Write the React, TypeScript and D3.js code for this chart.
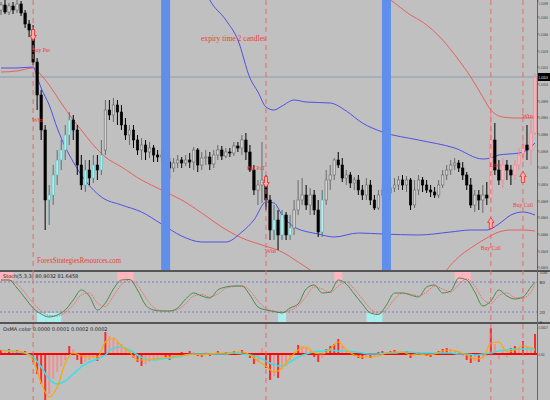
import React from 'react';
import * as d3 from 'd3';

// ---------- DATA (prices in points above 1.40000, 1 pt = 0.00001) ----------
const opens = [1090,1095,1088,1094,1090,1096,1087,1076,1070,1038,
1005,970,900,905,925,940,950,965,980,970,
935,915,930,922,935,930,950,990,985,995,
988,975,965,970,960,950,955,948,952,945,
943,945,938,932,937,940,937,940,938,950,
935,942,943,936,945,950,944,948,947,954,
952,960,948,930,910,915,920,900,870,880,
865,885,865,872,890,900,905,895,905,890,
868,900,920,925,940,935,922,925,917,920,
910,905,915,900,892,905,910,907,912,915,
920,915,920,895,910,920,915,910,908,905,
915,925,930,935,937,932,925,915,895,905,
900,905,902,960,930,920,935,930,925,935,
945,955,950,967];
const highs = [1098,1100,1097,1098,1100,1099,1090,1080,1075,1042,
1010,975,915,935,950,960,975,988,985,975,
945,940,940,945,945,960,1000,1000,1002,1000,
995,982,975,975,965,962,960,958,955,950,
950,948,942,942,945,943,945,947,953,952,
948,950,948,950,955,954,952,952,958,958,
965,967,955,935,920,958,925,905,895,890,
890,888,885,900,920,922,915,912,910,900,
910,930,935,942,948,942,930,928,923,925,
915,922,920,905,910,917,915,920,922,924,
925,924,922,920,925,923,920,915,913,920,
930,935,940,942,940,938,928,922,910,910,
915,918,990,977,940,942,940,935,940,952,
960,975,980,1027];
const lows = [1085,1086,1085,1086,1087,1084,1072,1063,1035,990,
960,870,875,895,915,930,940,955,960,925,
910,908,915,917,920,925,945,980,978,975,
970,960,955,952,945,940,940,942,938,938,
938,930,922,928,932,932,934,932,930,928,
930,935,930,932,940,940,942,943,944,948,
945,940,928,905,895,897,890,860,860,850,
860,860,860,865,885,895,890,885,885,863,
863,895,910,920,932,918,915,912,910,905,
900,900,895,890,890,902,903,904,908,910,
910,908,890,892,905,908,907,903,902,902,
912,920,925,930,928,920,910,892,888,890,
887,895,898,925,915,912,920,915,920,930,
940,940,935,965];
const closes = [1095,1088,1094,1090,1096,1087,1076,1070,1038,1005,
970,900,905,925,940,950,965,980,970,935,
915,930,922,935,930,945,990,985,995,988,
975,965,970,960,950,955,948,952,945,943,
945,938,932,937,940,937,940,938,950,935,
942,943,936,945,950,944,948,947,954,952,
960,948,930,910,915,920,900,870,880,865,
885,865,872,890,900,905,895,905,890,868,
900,920,925,940,935,922,925,917,920,910,
905,915,900,892,905,910,907,912,915,920,
915,920,895,910,920,915,910,908,905,915,
925,930,935,937,932,925,915,895,905,900,
905,902,960,930,920,935,930,925,935,945,
955,950,967,1023];

const cyanZones = [[9, 25], [67, 72], [79, 80]];
const pinkZones = [[122, 133]];

// indicator lines: bar index + price points
const blueLowerIdx = [0,4,8,9,10,12,14,16,18,20,25,30,35,40,45,50,56,60,63,66,68,70,73,79,83,89,95,104,112,117,121,124,127,130,133];
const blueLowerPts = [1032,1032,1033,1023,1012,995,972,953,938,925,903,895,888,876,864,858,858,868,880,898,897,885,873,866,863,867,866,865,868,870,870,876,885,888,885];
const blueUpperIdx = [0,20,40,48,52,56,59,62,64,66,68,70,73,76,82,86,90,95,104,113,120,122,124,129,131,133];
const blueUpperPts = [1160,1220,1190,1140,1100,1080,1060,1022,1008,993,990,994,1000,998,997,989,977,968,960,952,941,942,945,947,950,957];
const redLowerIdx = [0,4,8,10,12,15,18,20,23,26,30,35,40,45,50,55,60,65,70,74,77,80,90,100,108,111,114,117,121,124,127,130,133];
const redLowerPts = [1028,1029,1032,1025,1015,997,980,970,955,943,933,920,910,900,887,873,862,855,848,838,830,820,800,790,810,830,843,852,862,868,870,870,869];
const redUpperIdx = [80,90,97,102,105,110,114,117,120,122,125,128,133];
const redUpperPts = [1140,1115,1100,1085,1078,1060,1040,1023,1003,990,983,982,982];

const priceTicks = [1099,1083,1066,1049,1033,1016,999,983,966,949,933,916,899,883,866,849,833];
const expiryBars = [41, 96];

const signalBars = [8, 66, 122, 130];
const signalKinds = ['put', 'put', 'call', 'call'];
const signalArrowPts = [1065, 918, 877, 923];
const signalLabels = ['Buy Put', 'Buy PuT', 'Buy Call', 'Buy Call'];
const signalLabelPts = [1048, 930, 850, 893];
const signalAnchors = ['start', 'end', 'middle', 'middle'];
const resultLabels = ['Win', 'Win', 'Loss', 'Win'];
const resultPts = [978, 847, 933, 982];

// stochastic, sampled every 2 bars (last sample = last bar)
const stochMain = [84,84,68,48,28,16,10,14,24,44,64,52,24,38,66,84,85,64,34,24,22,22,28,46,58,52,48,64,70,72,72,54,30,24,21,18,28,36,66,74,58,60,84,76,56,36,18,15,34,58,58,54,50,70,74,58,62,88,84,60,32,42,64,52,46,50,70,80];
const stochSignal = [84,84,76,58,38,22,13,12,19,34,54,58,38,31,52,75,84,74,49,29,23,22,25,37,52,55,50,56,67,71,72,63,42,27,22,20,23,32,51,70,66,59,72,80,66,46,27,17,25,46,58,56,52,60,72,66,60,75,86,72,46,37,53,58,49,48,60,75];
const stochLevels = [80, 20];
const stochTicks = [100, 80, 20, 0];

// oscillator (points, 1e-5), histogram per bar, lines every 2 bars
const oscHist = [4,3,5,3,4,2,3,-2,-8,-20,
-30,-46,-40,-25,-18,-12,-6,8,5,-6,
-10,-8,-6,-4,-7,-3,22,18,16,12,
10,6,3,-4,-8,-12,-10,-8,-6,-5,
-3,-5,-6,-3,-2,2,-1,3,2,-2,
-3,2,-2,1,3,-1,2,1,3,2,
4,2,-4,-10,-8,6,-14,-26,-22,-24,
-15,-12,-6,2,9,8,6,3,-3,-8,
-4,5,8,10,15,8,3,2,-2,-4,
-5,-3,-4,-2,2,3,2,3,4,2,
1,3,-4,-2,2,1,-2,-3,1,3,
5,6,5,4,3,-2,-6,-9,-7,-8,
-4,-2,26,10,-5,4,-3,6,8,6,
13,7,5,20];
const oscOrange = [4,3,3,1,-6,-29,-43,-33,-9,1,-2,-3,-3,12,16,8,2,-6,-6,-5,-4,-3,-2,-1,0,-1,0,1,1,2,2,-1,-7,-12,-18,-14,-4,4,7,1,0,5,12,4,-1,-3,-3,-2,1,2,2,-1,0,-1,0,3,4,2,-1,-5,-4,11,12,2,4,8,6,5];
const oscCyan = [4,3,2,1,-3,-13,-25,-30,-27,-20,-13,-8,-5,-1,6,7,4,-1,-5,-6,-5,-4,-3,-1,0,0,0,0,0,1,0,-1,-3,-7,-11,-12,-8,-3,0,2,3,4,3,3,2,1,0,0,1,1,2,2,1,1,1,1,1,0,0,-1,0,1,3,4,5,5,5,4];
const oscTicks = [27, 0];

const W = 550, H = 400, AX = 537;
const BG = '#c0c0c0';
const SERIF = '"Liberation Serif", "DejaVu Serif", serif';
const SANS = '"DejaVu Sans", sans-serif';

function inZone(i: number, zones: number[][]) {
  return zones.some(([a, b]) => i >= a && i <= b);
}

export default function App() {
  const n = closes.length;
  const x = d3.scaleLinear().domain([0, n - 1]).range([1, 535]);
  const yP = d3.scaleLinear().domain([1100, 830]).range([0, 270]);
  const yS = d3.scaleLinear().domain([100, 0]).range([272, 322]);
  const yH = d3.scaleLinear().domain([0, -46]).range([354, 400]);
  const sBar = (k: number) => Math.min(k * 2, n - 1);
  const fmtP = (v: number) => (1.4 + v / 1e5).toFixed(5);

  const mkLine = (idx: number[], pts: number[]) =>
    d3.line<number>().x((_, k) => x(idx[k])).y(d => yP(d)).curve(d3.curveMonotoneX)(pts) || '';
  const stochLine = (vals: number[]) =>
    d3.line<number>().x((_, k) => x(sBar(k))).y(d => yS(d)).curve(d3.curveMonotoneX)(vals) || '';
  const oscLine = (vals: number[]) =>
    d3.line<number>().x((_, k) => x(sBar(k))).y(d => yH(d)).curve(d3.curveMonotoneX)(vals) || '';

  const bw = 2.4;
  const labX = AX + 1.5;
  const labW = 9.5;

  const arrow = (cx: number, cy: number, down: boolean) => {
    const s = down ? 1 : -1;
    const p = [
      [cx - 1.5, cy - 5.5 * s], [cx + 1.5, cy - 5.5 * s], [cx + 1.5, cy + 0.5 * s],
      [cx + 3.2, cy + 0.5 * s], [cx, cy + 5.5 * s], [cx - 3.2, cy + 0.5 * s], [cx - 1.5, cy + 0.5 * s],
    ];
    return 'M' + p.map(q => q.join(',')).join('L') + 'Z';
  };

  return (
    <svg width={W} height={H} style={{ position: 'absolute', left: 0, top: 0, display: 'block' }}>
      <defs>
        <clipPath id="cMain"><rect x={0} y={0} width={AX} height={270} /></clipPath>
        <clipPath id="cStoch"><rect x={0} y={272} width={AX} height={50} /></clipPath>
        <clipPath id="cOsc"><rect x={0} y={324} width={AX} height={76} /></clipPath>
      </defs>
      <rect x={0} y={0} width={W} height={H} fill={BG} />

      {/* ---------- main panel ---------- */}
      <g clipPath="url(#cMain)">
        <line x1={0} x2={AX} y1={yP(closes[n - 1])} y2={yP(closes[n - 1])} stroke="#8c9cad" strokeWidth={1} />
        <path d={mkLine(redLowerIdx, redLowerPts)} fill="none" stroke="#e86060" strokeWidth={1} />
        <path d={mkLine(redUpperIdx, redUpperPts)} fill="none" stroke="#e86060" strokeWidth={1} />
        <path d={mkLine(blueLowerIdx, blueLowerPts)} fill="none" stroke="#5050e6" strokeWidth={1} />
        <path d={mkLine(blueUpperIdx, blueUpperPts)} fill="none" stroke="#5050e6" strokeWidth={1} />
        {closes.map((c, i) => {
          const o = opens[i];
          const bull = c >= o;
          const cy = inZone(i, cyanZones);
          const pk = inZone(i, pinkZones);
          let fill = bull ? '#d4d4d4' : '#000';
          let stroke = bull ? '#6a6a6a' : '#000';
          let wick = bull ? '#6a6a6a' : '#000';
          if (cy && bull) { fill = '#b2f0f0'; stroke = '#5fb8b8'; wick = '#3c7c7c'; }
          if (pk && bull) { fill = '#ffb3bb'; stroke = '#f08894'; wick = '#f08894'; }
          const top = yP(Math.max(o, c));
          const bot = yP(Math.min(o, c));
          return (
            <g key={i}>
              <line x1={x(i)} x2={x(i)} y1={yP(highs[i])} y2={yP(lows[i])} stroke={wick} strokeWidth={1} />
              <rect x={x(i) - bw / 2} y={top} width={bw} height={Math.max(1, bot - top)} fill={fill} stroke={stroke} strokeWidth={0.6} />
            </g>
          );
        })}
        {expiryBars.map(b => (
          <rect key={b} x={x(b) - 4.5} y={0} width={9} height={270} fill="#5f8fea" />
        ))}
      </g>

      {/* ---------- stochastic panel ---------- */}
      <g clipPath="url(#cStoch)">
        {stochMain.map((v, k) => v > 80 ? (
          <rect key={'p' + k} x={x(sBar(k)) - 4} y={272} width={8} height={9} fill="#ffb6c1" />
        ) : null)}
        {stochMain.map((v, k) => v < 20 ? (
          <rect key={'c' + k} x={x(sBar(k)) - 4} y={313} width={8} height={9} fill="#aaeef0" />
        ) : null)}
        {stochLevels.map(l => (
          <line key={l} x1={0} x2={AX} y1={yS(l)} y2={yS(l)} stroke="#7878c8" strokeWidth={1} strokeDasharray="2,2" />
        ))}
        <path d={stochLine(stochSignal)} fill="none" stroke="#f06a6a" strokeWidth={1} strokeDasharray="1.5,1" />
        <path d={stochLine(stochMain)} fill="none" stroke="#4b8a4b" strokeWidth={1} />
        <text x={3} y={278} fontSize={5} fontFamily={SANS} fill="#222">Stoch(5,3,3) 80.9032 81.6458</text>
      </g>

      {/* ---------- oscillator panel ---------- */}
      <g clipPath="url(#cOsc)">
        {oscHist.map((v, i) => {
          const prev = i > 0 ? oscHist[i - 1] : 0;
          const col = Math.abs(v) >= Math.abs(prev) ? '#ff2a2a' : '#f29090';
          return (
            <rect key={i} x={x(i) - 1} y={Math.min(yH(v), yH(0))} width={2} height={Math.abs(yH(v) - yH(0))} fill={col} />
          );
        })}
        <line x1={0} x2={AX} y1={yH(0)} y2={yH(0)} stroke="#ff0000" strokeWidth={2} />
        <path d={oscLine(oscCyan)} fill="none" stroke="#38e0e8" strokeWidth={1.5} />
        <path d={oscLine(oscOrange)} fill="none" stroke="#ffa500" strokeWidth={1.2} />
        <text x={3} y={331} fontSize={5} fontFamily={SANS} fill="#222">OsMA color 0.0000 0.0001 0.0002 0.0002</text>
      </g>

      {/* ---------- separators & axis ---------- */}
      <line x1={0} x2={W} y1={271} y2={271} stroke="#555" strokeWidth={2} />
      <line x1={0} x2={W} y1={323} y2={323} stroke="#555" strokeWidth={2} />
      <line x1={AX + 0.5} x2={AX + 0.5} y1={0} y2={H} stroke="#666" strokeWidth={1} />
      {priceTicks.map(t => (
        <g key={t}>
          <line x1={AX} x2={AX + 1.5} y1={yP(t)} y2={yP(t)} stroke="#555" />
          <text x={labX} y={Math.max(5, yP(t) + 1.5)} fontSize={3.8} fontFamily={SANS} fill="#333" textLength={labW} lengthAdjust="spacingAndGlyphs">{fmtP(t)}</text>
        </g>
      ))}
      <rect x={AX + 1} y={yP(closes[n - 1]) - 4} width={W - AX - 1} height={8} fill="#000" />
      <text x={labX} y={yP(closes[n - 1]) + 1.5} fontSize={3.8} fontFamily={SANS} fill="#fff" textLength={labW} lengthAdjust="spacingAndGlyphs">{fmtP(closes[n - 1])}</text>
      {stochTicks.map(t => (
        <text key={t} x={AX + 2.5} y={yS(t) + 2} fontSize={4.2} fontFamily={SANS} fill="#333">{t}</text>
      ))}
      {oscTicks.map(t => (
        <text key={t} x={labX} y={yH(t) + 1.5} fontSize={3.8} fontFamily={SANS} fill="#333"
          textLength={t === 0 ? 6 : labW} lengthAdjust="spacingAndGlyphs">{t === 0 ? '0.00' : (t / 1e5).toFixed(5)}</text>
      ))}

      {/* ---------- signal lines ---------- */}
      {signalBars.map(b => (
        <line key={'d' + b} x1={x(b)} x2={x(b)} y1={0} y2={H} stroke="#e46a6a" strokeWidth={1} strokeDasharray="5,4" />
      ))}
      {signalBars.map((b, k) => (
        <g key={'s' + b}>
          <path d={arrow(x(b), yP(signalArrowPts[k]), signalKinds[k] === 'put')} fill="#f6b4b4" stroke="#ff3030" strokeWidth={0.9} />
          <text x={signalAnchors[k] === 'middle' ? x(b) : x(b) - 1}
            y={yP(signalLabelPts[k])} textAnchor={signalAnchors[k] as any} fontSize={7} fontFamily={SERIF} fill="#ee3b3b"
            textLength={signalLabels[k] === 'Buy Call' ? 20 : 18} lengthAdjust="spacingAndGlyphs">{signalLabels[k]}</text>
          <text x={x(b) - 1} y={yP(resultPts[k])} fontSize={7} fontFamily={SERIF} fill="#ee3b3b"
            textLength={11} lengthAdjust="spacingAndGlyphs">{resultLabels[k]}</text>
        </g>
      ))}
      <text x={201} y={41} fontSize={9} fontFamily={SERIF} fill="#ee3b3b" textLength={65} lengthAdjust="spacingAndGlyphs">expiry time 2 candles</text>
      <text x={37} y={263} fontSize={9} fontFamily={SERIF} fill="#ee3b3b" textLength={84} lengthAdjust="spacingAndGlyphs">ForexStrategiesResources.com</text>
    </svg>
  );
}
